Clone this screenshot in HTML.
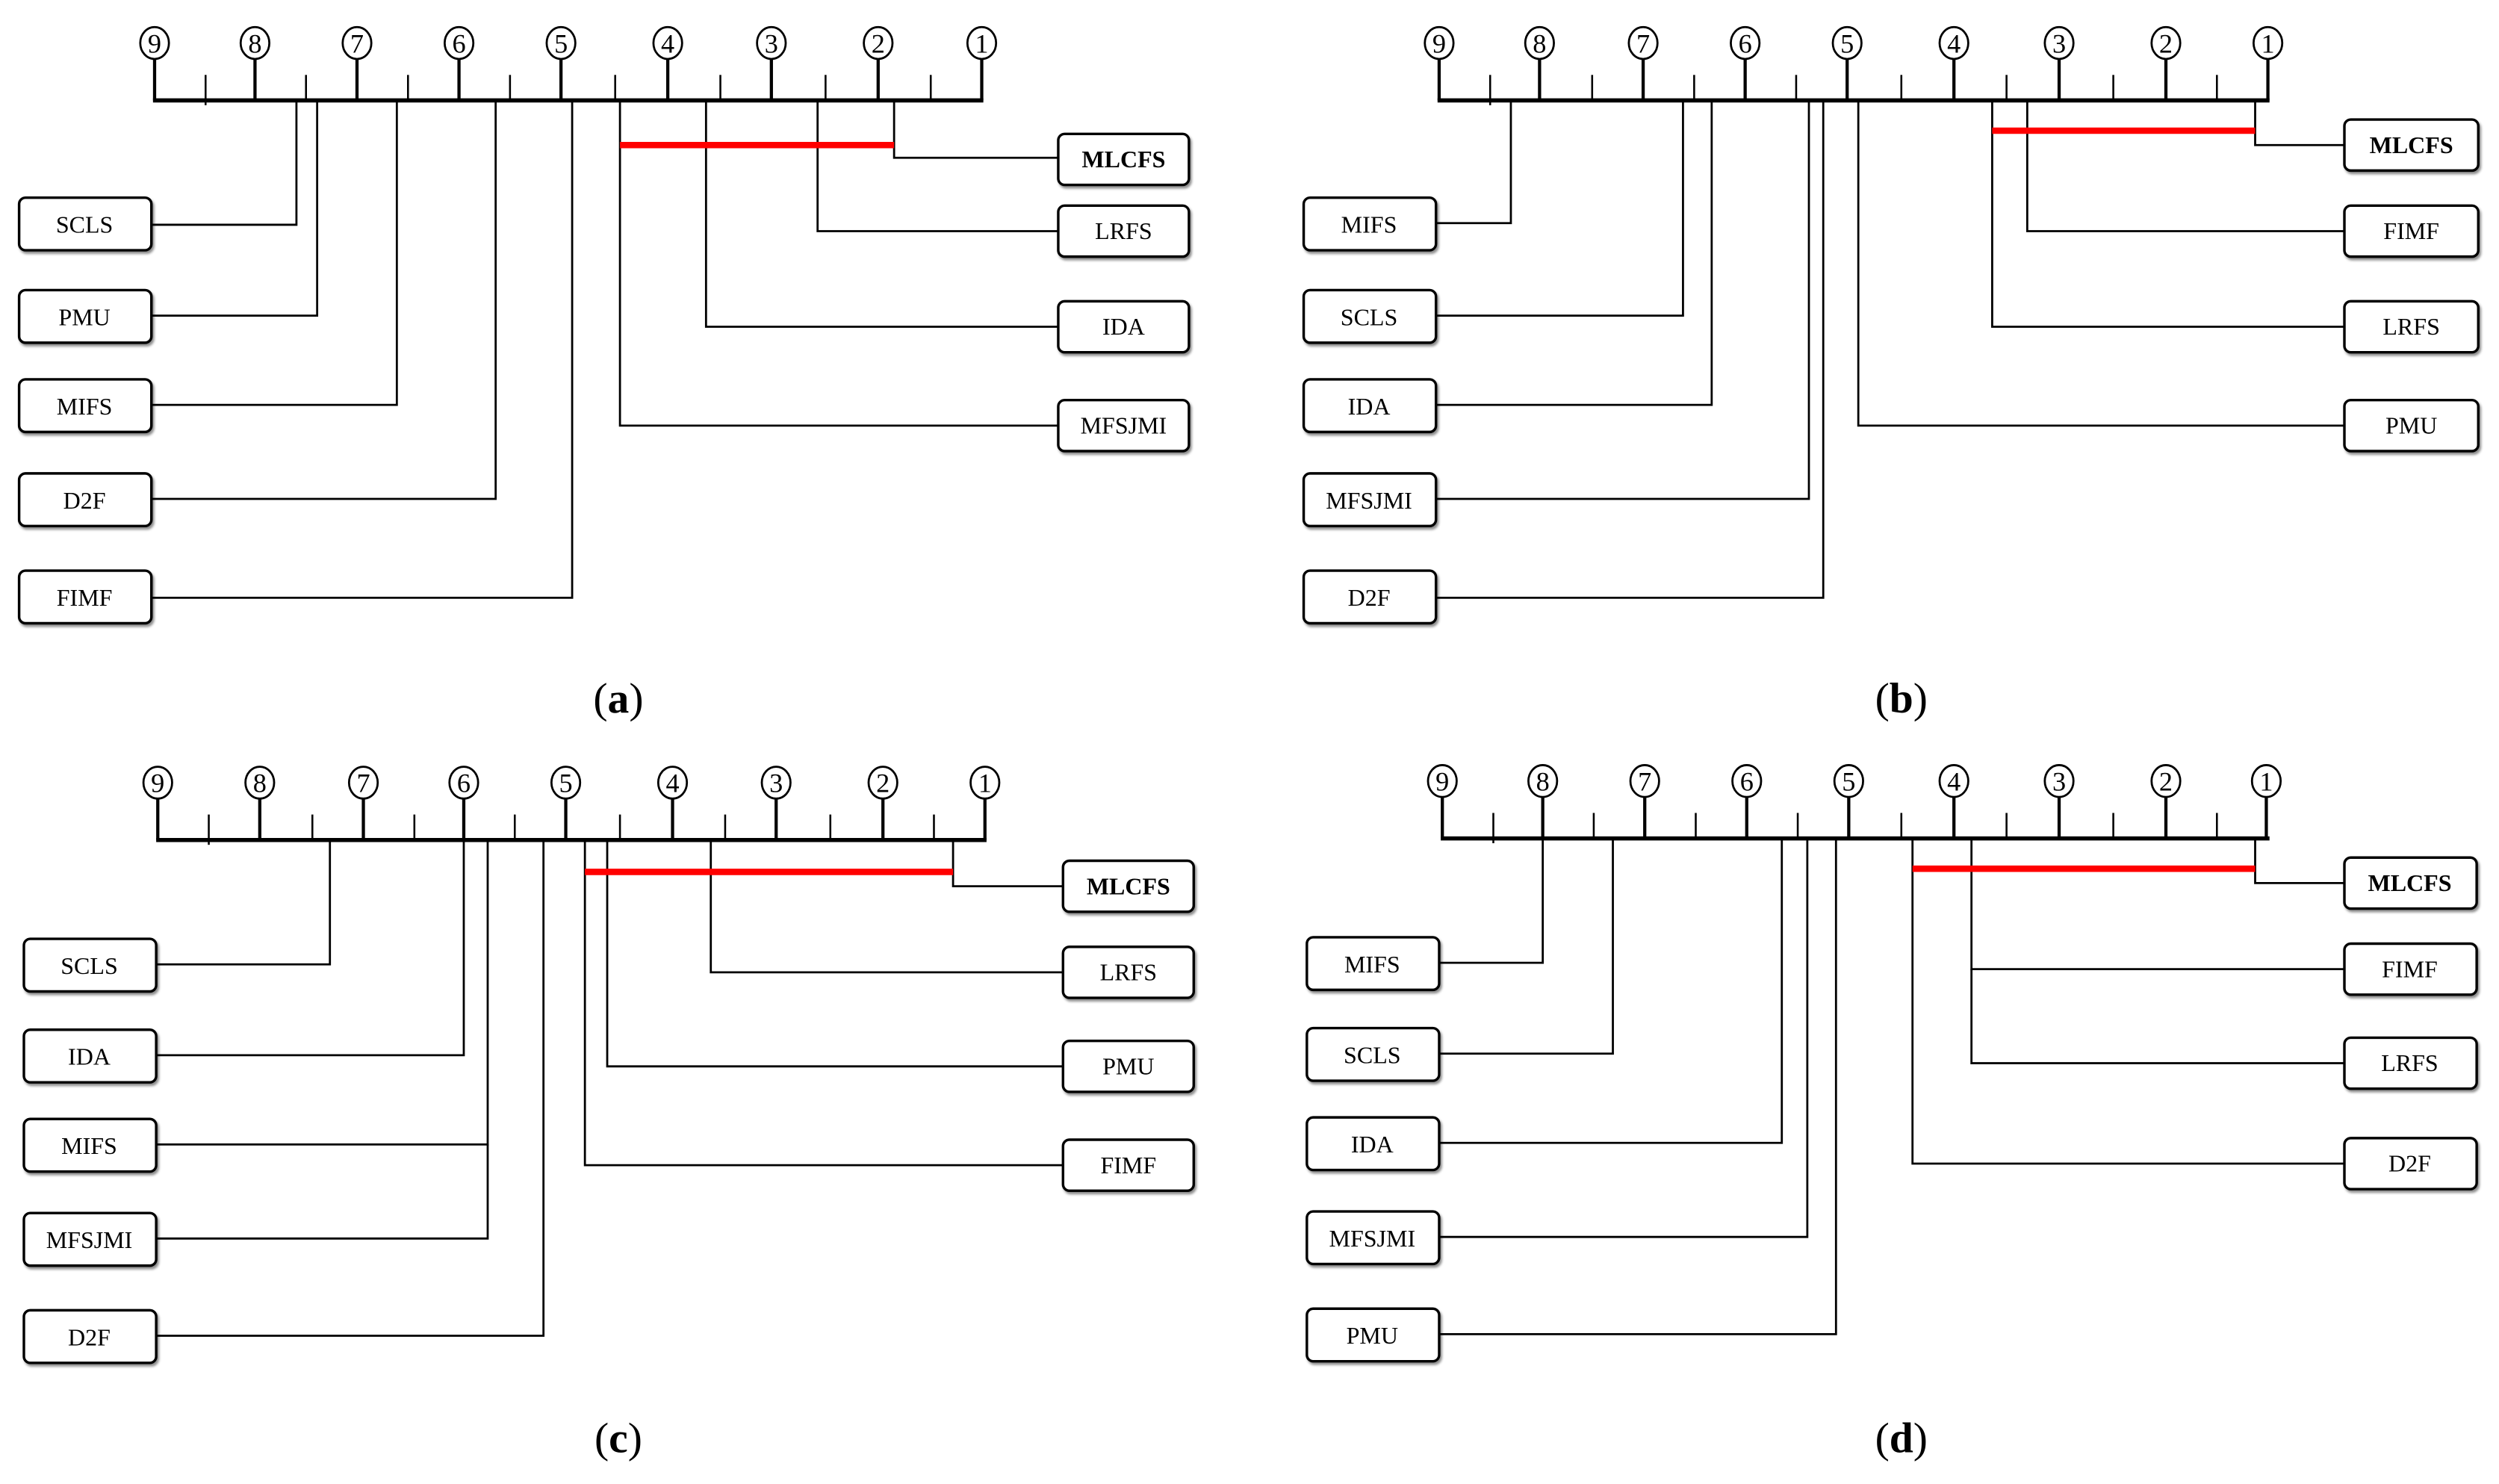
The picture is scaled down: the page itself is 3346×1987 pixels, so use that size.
<!DOCTYPE html>
<html><head><meta charset="utf-8"><style>
html,body{margin:0;padding:0;background:#fff}
svg{display:block}
text{font-family:"Liberation Serif",serif;font-size:15px;fill:#000}
.n{font-size:17px}
.lab{font-size:27px}
</style></head><body>
<svg width="3346" height="1987" viewBox="0 0 1568 931" preserveAspectRatio="none" xmlns="http://www.w3.org/2000/svg">
<defs>
<filter id="sh" x="-10%" y="-10%" width="130%" height="140%"><feDropShadow dx="1" dy="1.5" stdDeviation="0.8" flood-color="#000" flood-opacity="0.45"/></filter>
</defs>
<!-- ===== Panel A ===== -->
<g stroke="#000" fill="none">
<line x1="96" y1="63" x2="617" y2="63" stroke-width="2.6"/>
<g stroke-width="2">
<line x1="97" y1="36" x2="97" y2="63"/><line x1="160" y1="36" x2="160" y2="63"/><line x1="224" y1="36" x2="224" y2="63"/><line x1="288" y1="36" x2="288" y2="63"/><line x1="352" y1="36" x2="352" y2="63"/><line x1="419" y1="36" x2="419" y2="63"/><line x1="484" y1="36" x2="484" y2="63"/><line x1="551" y1="36" x2="551" y2="63"/><line x1="616" y1="36" x2="616" y2="63"/>
</g>
<g stroke-width="1.2">
<line x1="129" y1="47" x2="129" y2="66"/><line x1="192" y1="47" x2="192" y2="63"/><line x1="256" y1="47" x2="256" y2="63"/><line x1="320" y1="47" x2="320" y2="63"/><line x1="386" y1="47" x2="386" y2="63"/><line x1="452" y1="47" x2="452" y2="63"/><line x1="518" y1="47" x2="518" y2="63"/><line x1="584" y1="47" x2="584" y2="63"/>
</g>
<g stroke-width="1.3" fill="#fff">
<ellipse cx="97" cy="27" rx="9" ry="10"/><ellipse cx="160" cy="27" rx="9" ry="10"/><ellipse cx="224" cy="27" rx="9" ry="10"/><ellipse cx="288" cy="27" rx="9" ry="10"/><ellipse cx="352" cy="27" rx="9" ry="10"/><ellipse cx="419" cy="27" rx="9" ry="10"/><ellipse cx="484" cy="27" rx="9" ry="10"/><ellipse cx="551" cy="27" rx="9" ry="10"/><ellipse cx="616" cy="27" rx="9" ry="10"/>
</g>
<g stroke-width="1.3">
<polyline points="561,63 561,99 664,99"/>
<polyline points="513,63 513,145 664,145"/>
<polyline points="443,63 443,205 664,205"/>
<polyline points="389,63 389,267 664,267"/>
<polyline points="186,63 186,141 95,141"/>
<polyline points="199,63 199,198 95,198"/>
<polyline points="249,63 249,254 95,254"/>
<polyline points="311,63 311,313 95,313"/>
<polyline points="359,63 359,375 95,375"/>
</g>
<line x1="389" y1="91" x2="561" y2="91" stroke="#f00" stroke-width="4"/>
<g stroke-width="1.6" fill="#fff" filter="url(#sh)">
<rect x="664" y="84" width="82" height="32" rx="4"/><rect x="664" y="129" width="82" height="32" rx="4"/><rect x="664" y="189" width="82" height="32" rx="4"/><rect x="664" y="251" width="82" height="32" rx="4"/>
<rect x="12" y="124" width="83" height="33" rx="4"/><rect x="12" y="182" width="83" height="33" rx="4"/><rect x="12" y="238" width="83" height="33" rx="4"/><rect x="12" y="297" width="83" height="33" rx="4"/><rect x="12" y="358" width="83" height="33" rx="4"/>
</g>
</g>
<g text-anchor="middle">
<text class="n" x="97" y="33">9</text><text class="n" x="160" y="33">8</text><text class="n" x="224" y="33">7</text><text class="n" x="288" y="33">6</text><text class="n" x="352" y="33">5</text><text class="n" x="419" y="33">4</text><text class="n" x="484" y="33">3</text><text class="n" x="551" y="33">2</text><text class="n" x="616" y="33">1</text>
<text x="705" y="105" font-weight="bold">MLCFS</text><text x="705" y="150">LRFS</text><text x="705" y="210">IDA</text><text x="705" y="272">MFSJMI</text>
<text x="53" y="146">SCLS</text><text x="53" y="204">PMU</text><text x="53" y="260">MIFS</text><text x="53" y="319">D2F</text><text x="53" y="380">FIMF</text>
<text class="lab" x="388" y="447">(<tspan font-weight="bold">a</tspan>)</text>
</g>

<!-- ===== Panel B ===== -->
<g stroke="#000" fill="none">
<line x1="902" y1="63" x2="1424" y2="63" stroke-width="2.6"/>
<g stroke-width="2">
<line x1="903" y1="36" x2="903" y2="63"/><line x1="966" y1="36" x2="966" y2="63"/><line x1="1031" y1="36" x2="1031" y2="63"/><line x1="1095" y1="36" x2="1095" y2="63"/><line x1="1159" y1="36" x2="1159" y2="63"/><line x1="1226" y1="36" x2="1226" y2="63"/><line x1="1292" y1="36" x2="1292" y2="63"/><line x1="1359" y1="36" x2="1359" y2="63"/><line x1="1423" y1="36" x2="1423" y2="63"/>
</g>
<g stroke-width="1.2">
<line x1="935" y1="47" x2="935" y2="66"/><line x1="999" y1="47" x2="999" y2="63"/><line x1="1063" y1="47" x2="1063" y2="63"/><line x1="1127" y1="47" x2="1127" y2="63"/><line x1="1193" y1="47" x2="1193" y2="63"/><line x1="1259" y1="47" x2="1259" y2="63"/><line x1="1326" y1="47" x2="1326" y2="63"/><line x1="1391" y1="47" x2="1391" y2="63"/>
</g>
<g stroke-width="1.3" fill="#fff">
<ellipse cx="903" cy="27" rx="9" ry="10"/><ellipse cx="966" cy="27" rx="9" ry="10"/><ellipse cx="1031" cy="27" rx="9" ry="10"/><ellipse cx="1095" cy="27" rx="9" ry="10"/><ellipse cx="1159" cy="27" rx="9" ry="10"/><ellipse cx="1226" cy="27" rx="9" ry="10"/><ellipse cx="1292" cy="27" rx="9" ry="10"/><ellipse cx="1359" cy="27" rx="9" ry="10"/><ellipse cx="1423" cy="27" rx="9" ry="10"/>
</g>
<g stroke-width="1.3">
<polyline points="1415,63 1415,91 1471,91"/>
<polyline points="1272,63 1272,145 1471,145"/>
<polyline points="1250,63 1250,205 1471,205"/>
<polyline points="1166,63 1166,267 1471,267"/>
<polyline points="948,63 948,140 901,140"/>
<polyline points="1056,63 1056,198 901,198"/>
<polyline points="1074,63 1074,254 901,254"/>
<polyline points="1135,63 1135,313 901,313"/>
<polyline points="1144,63 1144,375 901,375"/>
</g>
<line x1="1250" y1="82" x2="1415" y2="82" stroke="#f00" stroke-width="4"/>
<g stroke-width="1.6" fill="#fff" filter="url(#sh)">
<rect x="1471" y="75" width="84" height="32" rx="4"/><rect x="1471" y="129" width="84" height="32" rx="4"/><rect x="1471" y="189" width="84" height="32" rx="4"/><rect x="1471" y="251" width="84" height="32" rx="4"/>
<rect x="818" y="124" width="83" height="33" rx="4"/><rect x="818" y="182" width="83" height="33" rx="4"/><rect x="818" y="238" width="83" height="33" rx="4"/><rect x="818" y="297" width="83" height="33" rx="4"/><rect x="818" y="358" width="83" height="33" rx="4"/>
</g>
</g>
<g text-anchor="middle">
<text class="n" x="903" y="33">9</text><text class="n" x="966" y="33">8</text><text class="n" x="1031" y="33">7</text><text class="n" x="1095" y="33">6</text><text class="n" x="1159" y="33">5</text><text class="n" x="1226" y="33">4</text><text class="n" x="1292" y="33">3</text><text class="n" x="1359" y="33">2</text><text class="n" x="1423" y="33">1</text>
<text x="1513" y="96" font-weight="bold">MLCFS</text><text x="1513" y="150">FIMF</text><text x="1513" y="210">LRFS</text><text x="1513" y="272">PMU</text>
<text x="859" y="146">MIFS</text><text x="859" y="204">SCLS</text><text x="859" y="260">IDA</text><text x="859" y="319">MFSJMI</text><text x="859" y="380">D2F</text>
<text class="lab" x="1193" y="447">(<tspan font-weight="bold">b</tspan>)</text>
</g>

<!-- ===== Panel C ===== -->
<g stroke="#000" fill="none">
<line x1="98" y1="527" x2="619" y2="527" stroke-width="2.6"/>
<g stroke-width="2">
<line x1="99" y1="500" x2="99" y2="527"/><line x1="163" y1="500" x2="163" y2="527"/><line x1="228" y1="500" x2="228" y2="527"/><line x1="291" y1="500" x2="291" y2="527"/><line x1="355" y1="500" x2="355" y2="527"/><line x1="422" y1="500" x2="422" y2="527"/><line x1="487" y1="500" x2="487" y2="527"/><line x1="554" y1="500" x2="554" y2="527"/><line x1="618" y1="500" x2="618" y2="527"/>
</g>
<g stroke-width="1.2">
<line x1="131" y1="511" x2="131" y2="530"/><line x1="196" y1="511" x2="196" y2="527"/><line x1="260" y1="511" x2="260" y2="527"/><line x1="323" y1="511" x2="323" y2="527"/><line x1="389" y1="511" x2="389" y2="527"/><line x1="455" y1="511" x2="455" y2="527"/><line x1="521" y1="511" x2="521" y2="527"/><line x1="586" y1="511" x2="586" y2="527"/>
</g>
<g stroke-width="1.3" fill="#fff">
<ellipse cx="99" cy="491" rx="9" ry="10"/><ellipse cx="163" cy="491" rx="9" ry="10"/><ellipse cx="228" cy="491" rx="9" ry="10"/><ellipse cx="291" cy="491" rx="9" ry="10"/><ellipse cx="355" cy="491" rx="9" ry="10"/><ellipse cx="422" cy="491" rx="9" ry="10"/><ellipse cx="487" cy="491" rx="9" ry="10"/><ellipse cx="554" cy="491" rx="9" ry="10"/><ellipse cx="618" cy="491" rx="9" ry="10"/>
</g>
<g stroke-width="1.3">
<polyline points="598,527 598,556 667,556"/>
<polyline points="446,527 446,610 667,610"/>
<polyline points="381,527 381,669 667,669"/>
<polyline points="367,527 367,731 667,731"/>
<polyline points="207,527 207,605 98,605"/>
<polyline points="291,527 291,662 98,662"/>
<polyline points="306,527 306,718 98,718"/>
<polyline points="306,718 306,777 98,777"/>
<polyline points="341,527 341,838 98,838"/>
</g>
<line x1="367" y1="547" x2="598" y2="547" stroke="#f00" stroke-width="4"/>
<g stroke-width="1.6" fill="#fff" filter="url(#sh)">
<rect x="667" y="540" width="82" height="32" rx="4"/><rect x="667" y="594" width="82" height="32" rx="4"/><rect x="667" y="653" width="82" height="32" rx="4"/><rect x="667" y="715" width="82" height="32" rx="4"/>
<rect x="15" y="589" width="83" height="33" rx="4"/><rect x="15" y="646" width="83" height="33" rx="4"/><rect x="15" y="702" width="83" height="33" rx="4"/><rect x="15" y="761" width="83" height="33" rx="4"/><rect x="15" y="822" width="83" height="33" rx="4"/>
</g>
</g>
<g text-anchor="middle">
<text class="n" x="99" y="497">9</text><text class="n" x="163" y="497">8</text><text class="n" x="228" y="497">7</text><text class="n" x="291" y="497">6</text><text class="n" x="355" y="497">5</text><text class="n" x="422" y="497">4</text><text class="n" x="487" y="497">3</text><text class="n" x="554" y="497">2</text><text class="n" x="618" y="497">1</text>
<text x="708" y="561" font-weight="bold">MLCFS</text><text x="708" y="615">LRFS</text><text x="708" y="674">PMU</text><text x="708" y="736">FIMF</text>
<text x="56" y="611">SCLS</text><text x="56" y="668">IDA</text><text x="56" y="724">MIFS</text><text x="56" y="783">MFSJMI</text><text x="56" y="844">D2F</text>
<text class="lab" x="388" y="911">(<tspan font-weight="bold">c</tspan>)</text>
</g>

<!-- ===== Panel D ===== -->
<g stroke="#000" fill="none">
<line x1="904" y1="526" x2="1424" y2="526" stroke-width="2.6"/>
<g stroke-width="2">
<line x1="905" y1="499" x2="905" y2="526"/><line x1="968" y1="499" x2="968" y2="526"/><line x1="1032" y1="499" x2="1032" y2="526"/><line x1="1096" y1="499" x2="1096" y2="526"/><line x1="1160" y1="499" x2="1160" y2="526"/><line x1="1226" y1="499" x2="1226" y2="526"/><line x1="1292" y1="499" x2="1292" y2="526"/><line x1="1359" y1="499" x2="1359" y2="526"/><line x1="1422" y1="499" x2="1422" y2="526"/>
</g>
<g stroke-width="1.2">
<line x1="937" y1="510" x2="937" y2="529"/><line x1="1000" y1="510" x2="1000" y2="526"/><line x1="1064" y1="510" x2="1064" y2="526"/><line x1="1128" y1="510" x2="1128" y2="526"/><line x1="1193" y1="510" x2="1193" y2="526"/><line x1="1259" y1="510" x2="1259" y2="526"/><line x1="1326" y1="510" x2="1326" y2="526"/><line x1="1391" y1="510" x2="1391" y2="526"/>
</g>
<g stroke-width="1.3" fill="#fff">
<ellipse cx="905" cy="490" rx="9" ry="10"/><ellipse cx="968" cy="490" rx="9" ry="10"/><ellipse cx="1032" cy="490" rx="9" ry="10"/><ellipse cx="1096" cy="490" rx="9" ry="10"/><ellipse cx="1160" cy="490" rx="9" ry="10"/><ellipse cx="1226" cy="490" rx="9" ry="10"/><ellipse cx="1292" cy="490" rx="9" ry="10"/><ellipse cx="1359" cy="490" rx="9" ry="10"/><ellipse cx="1422" cy="490" rx="9" ry="10"/>
</g>
<g stroke-width="1.3">
<polyline points="1415,526 1415,554 1471,554"/>
<polyline points="1237,526 1237,608 1471,608"/>
<polyline points="1237,608 1237,667 1471,667"/>
<polyline points="1200,526 1200,730 1471,730"/>
<polyline points="968,526 968,604 903,604"/>
<polyline points="1012,526 1012,661 903,661"/>
<polyline points="1118,526 1118,717 903,717"/>
<polyline points="1134,526 1134,776 903,776"/>
<polyline points="1152,526 1152,837 903,837"/>
</g>
<line x1="1200" y1="545" x2="1415" y2="545" stroke="#f00" stroke-width="4"/>
<g stroke-width="1.6" fill="#fff" filter="url(#sh)">
<rect x="1471" y="538" width="83" height="32" rx="4"/><rect x="1471" y="592" width="83" height="32" rx="4"/><rect x="1471" y="651" width="83" height="32" rx="4"/><rect x="1471" y="714" width="83" height="32" rx="4"/>
<rect x="820" y="588" width="83" height="33" rx="4"/><rect x="820" y="645" width="83" height="33" rx="4"/><rect x="820" y="701" width="83" height="33" rx="4"/><rect x="820" y="760" width="83" height="33" rx="4"/><rect x="820" y="821" width="83" height="33" rx="4"/>
</g>
</g>
<g text-anchor="middle">
<text class="n" x="905" y="496">9</text><text class="n" x="968" y="496">8</text><text class="n" x="1032" y="496">7</text><text class="n" x="1096" y="496">6</text><text class="n" x="1160" y="496">5</text><text class="n" x="1226" y="496">4</text><text class="n" x="1292" y="496">3</text><text class="n" x="1359" y="496">2</text><text class="n" x="1422" y="496">1</text>
<text x="1512" y="559" font-weight="bold">MLCFS</text><text x="1512" y="613">FIMF</text><text x="1512" y="672">LRFS</text><text x="1512" y="735">D2F</text>
<text x="861" y="610">MIFS</text><text x="861" y="667">SCLS</text><text x="861" y="723">IDA</text><text x="861" y="782">MFSJMI</text><text x="861" y="843">PMU</text>
<text class="lab" x="1193" y="911">(<tspan font-weight="bold">d</tspan>)</text>
</g>
</svg>
</body></html>
